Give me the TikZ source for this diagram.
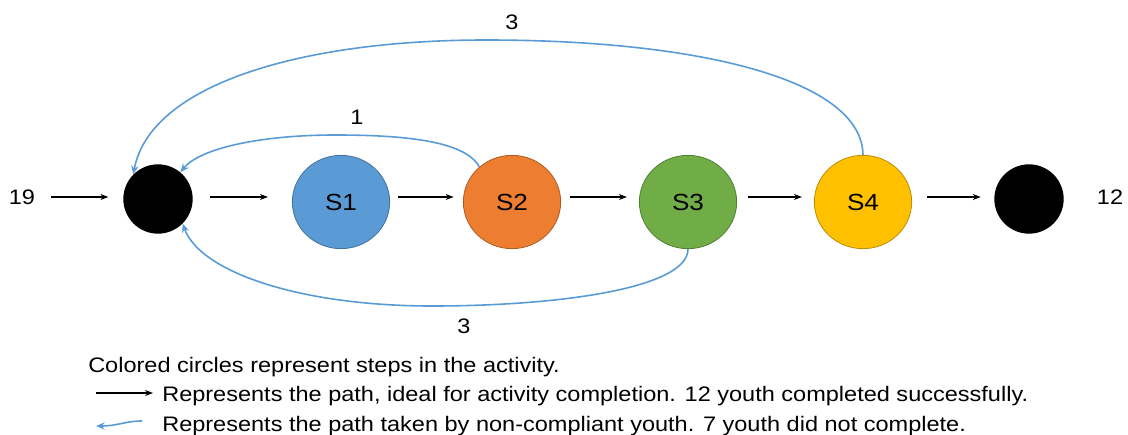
\documentclass[tikz,border=0pt]{standalone}
\usepackage{fontspec}
\setmainfont{Liberation Sans}[FakeStretch=1.12]
\usetikzlibrary{shapes.geometric,arrows.meta}
\definecolor{oblue}{HTML}{5B9BD5}
\definecolor{oblueD}{HTML}{41719C}
\definecolor{oorange}{HTML}{ED7D31}
\definecolor{oorangeD}{HTML}{AE5A21}
\definecolor{ogreen}{HTML}{70AD47}
\definecolor{ogreenD}{HTML}{507E32}
\definecolor{ogold}{HTML}{FFC000}
\definecolor{ogoldD}{HTML}{BC8C00}
\definecolor{lineblue}{HTML}{5B9BD5}
\begin{document}
\begin{tikzpicture}[x=0.75pt,y=-0.75pt,
  stepnode/.style={ellipse, minimum width=73pt, minimum height=70pt, inner sep=0pt, line width=0.6pt, font=\fontsize{17.5}{19}\selectfont},
  endnode/.style={circle, minimum size=52pt, inner sep=0pt, fill=black},
  numlabel/.style={inner sep=0pt, font=\fontsize{15.75}{18}\selectfont},
  legendtext/.style={inner sep=0pt, anchor=base west, font=\fontsize{15.75}{18}\selectfont},
  blackarr/.style={-{Stealth[length=6pt,width=4.5pt]}, line width=0.8pt, black},
  bluearr/.style={-{Stealth[length=6.5pt,width=5.5pt]}, line width=1.2pt, lineblue}]
\useasboundingbox (0,0) rectangle (1128,435);
% nodes
\node[numlabel] (in) at (22,197) {19};
\node[endnode] (start) at (158,199) {};
\node[stepnode, fill=oblue, draw=oblueD] (s1) at (341,202) {S1};
\node[stepnode, fill=oorange, draw=oorangeD] (s2) at (512,202) {S2};
\node[stepnode, fill=ogreen, draw=ogreenD] (s3) at (688,202) {S3};
\node[stepnode, fill=ogold, draw=ogoldD] (s4) at (863,202) {S4};
\node[endnode] (end) at (1029,199) {};
\node[numlabel] (out) at (1110,197) {12};
% black forward arrows (horizontal at the level of the count labels)
\draw[blackarr, shorten <=12pt, shorten >=11pt] (in) -- (start.west |- in);
\draw[blackarr, shorten <=13pt, shorten >=18pt] (start.east |- in) -- (s1.west |- in);
\draw[blackarr, shorten <=6pt, shorten >=7pt] (s1.east |- in) -- (s2.west |- in);
\draw[blackarr, shorten <=7pt, shorten >=9pt] (s2.east |- in) -- (s3.west |- in);
\draw[blackarr, shorten <=8pt, shorten >=9pt] (s3.east |- in) -- (s4.west |- in);
\draw[blackarr, shorten <=11pt, shorten >=10pt] (s4.east |- in) -- (end.west |- in);
% blue return curves
\draw[bluearr] (s2.133) .. controls (465,140) and (400,135) .. (335,135)
  .. controls (262,135) and (200,148) .. (start.50);
\draw[bluearr] (s4.north) .. controls (862,80) and (700,40) .. (486,40)
  .. controls (300,40) and (150,85) .. (start.135);
\draw[bluearr] (s3.south) .. controls (688,288) and (560,306) .. (432,306)
  .. controls (300,306) and (200,272) .. (start.-45);
% counts
\node[numlabel] (c1) at (357,117) {1};
\node[numlabel] (c3top) at (512,22) {3};
\node[numlabel] (c3bot) at (464,326) {3};
% legend
\node[legendtext] (leg1) at (88,372) {Colored circles represent steps in the activity.};
\node[legendtext] (leg2) at (162,401) {Represents the path, ideal for activity completion. 12 youth completed successfully.};
\node[legendtext] (leg3) at (162,431) {Represents the path taken by non-compliant youth. 7 youth did not complete.};
\coordinate (lk1) at (96,393);
\coordinate (lk2) at (153,393);
\coordinate (lb1) at (142,421);
\coordinate (lb2) at (96,426);
\draw[blackarr] (lk1) -- (lk2);
\draw[bluearr] (lb1) .. controls (125,421) and (118,426) .. (lb2);
\end{tikzpicture}
\end{document}
